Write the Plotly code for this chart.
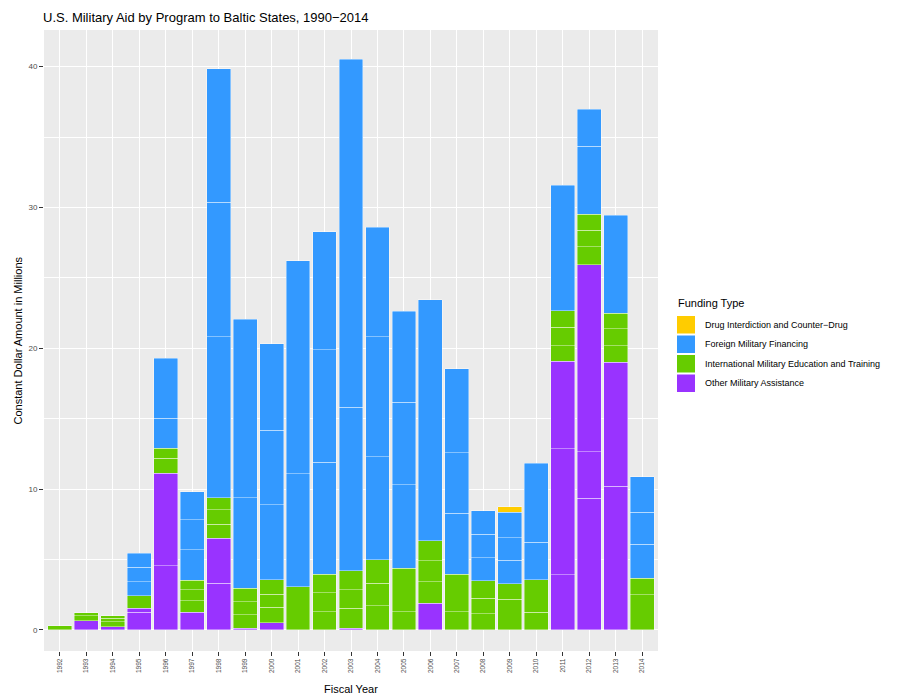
import plotly.graph_objects as go

years = [str(y) for y in range(1992, 2015)]

# Segment values (millions, constant dollars), bottom-to-top within each program
# Other Military Assistance
oma_1 = [0, 0.66, 0.24, 1.26, 4.57, 1.26, 3.31, 0.12, 0.52, 0, 0, 0.12, 0, 0, 1.89, 0, 0, 0, 0, 3.91, 9.35, 10.20, 0]
oma_2 = [0, 0, 0, 0.28, 6.56, 0, 3.20, 0, 0, 0, 0, 0, 0, 0, 0, 0, 0, 0, 0, 8.95, 3.31, 8.81, 0]
oma_3 = [0, 0, 0, 0, 0, 0, 0, 0, 0, 0, 0, 0, 0, 0, 0, 0, 0, 0, 0, 6.20, 13.26, 0, 0]
# International Military Education and Training
imet_1 = [0.28, 0.34, 0.35, 0.87, 1.06, 0.80, 0.99, 0.95, 1.07, 3.08, 1.30, 1.42, 1.73, 1.30, 1.54, 1.30, 1.16, 2.18, 1.26, 1.11, 1.30, 1.16, 2.49]
imet_2 = [0, 0.23, 0.24, 0, 0.71, 0.78, 1.02, 0.94, 0.94, 0, 1.35, 1.30, 1.58, 3.08, 1.47, 2.65, 1.09, 1.11, 2.29, 1.33, 1.17, 1.21, 1.18]
imet_3 = [0, 0, 0.19, 0, 0, 0.69, 0.88, 0.95, 1.02, 0, 1.30, 1.37, 1.66, 0, 1.44, 0, 1.25, 0, 0, 1.16, 1.13, 1.11, 0]
# Foreign Military Financing
fmf_1 = [0, 0, 0, 1.02, 2.13, 2.15, 11.43, 6.44, 5.33, 8.00, 7.96, 11.60, 7.34, 5.92, 17.10, 4.34, 1.64, 1.66, 2.68, 8.90, 4.81, 6.94, 2.42]
fmf_2 = [0, 0, 0, 1.02, 4.27, 2.13, 9.54, 12.67, 5.30, 15.15, 7.98, 24.72, 8.52, 5.87, 0, 4.30, 1.66, 1.61, 5.61, 0, 2.65, 0, 2.27]
fmf_3 = [0, 0, 0, 1.00, 0, 1.99, 9.47, 0, 6.13, 0, 8.40, 0, 7.77, 6.44, 0, 5.95, 1.65, 1.80, 0, 0, 0, 0, 2.53]
# Drug Interdiction and Counter-Drug
drug_1 = [0, 0, 0, 0, 0, 0, 0, 0, 0, 0, 0, 0, 0, 0, 0, 0, 0, 0.38, 0, 0, 0, 0, 0]

programs = ["Drug Interdiction and Counter\u2212Drug", "Foreign Military Financing",
            "International Military Education and Training", "Other Military Assistance"]
colors = {"Drug Interdiction and Counter\u2212Drug": "#FFCC00",
          "Foreign Military Financing": "#3399FF",
          "International Military Education and Training": "#66CC00",
          "Other Military Assistance": "#9933FF"}

stack = [
    ("Other Military Assistance", [oma_1, oma_2, oma_3]),
    ("International Military Education and Training", [imet_1, imet_2, imet_3]),
    ("Foreign Military Financing", [fmf_1, fmf_2, fmf_3]),
    ("Drug Interdiction and Counter\u2212Drug", [drug_1]),
]

fig = go.Figure()
for name, segs in stack:
    for seg in segs:
        fig.add_trace(go.Bar(
            x=years, y=[v if v > 0 else None for v in seg], name=name,
            width=0.9, marker=dict(color=colors[name],
                                   line=dict(color="rgba(255,255,255,0.5)", width=0.8)),
            showlegend=False, hovertemplate="%{x}: %{y}<extra>" + name + "</extra>"))

# page has an 8px body margin: lay out in page pixels minus offset
OFF = 8
W, H = 905 - OFF, 695 - OFF
L, R, T, B = 44 - OFF, 658 - OFF, 30 - OFF, 651 - OFF

def px(x):
    return (x - OFF - L) / (R - L)

def py(y):
    return (B - (y - OFF)) / (B - T)

shapes = []
annotations = []
# legend
annotations.append(dict(x=px(676), y=py(303), xref="paper", yref="paper", text="Funding Type",
                        showarrow=False, xanchor="left", yanchor="middle",
                        font=dict(size=11, color="black")))
for i, name in enumerate(programs):
    top = 316 + i * 19.5
    shapes.append(dict(type="rect", xref="paper", yref="paper",
                       x0=px(677), x1=px(695), y0=py(top), y1=py(top + 17.5),
                       fillcolor=colors[name], line=dict(width=0)))
    annotations.append(dict(x=px(703), y=py(top + 8.7), xref="paper", yref="paper", text=name,
                            showarrow=False, xanchor="left", yanchor="middle",
                            font=dict(size=9, color="black")))
# axis titles
annotations.append(dict(x=0.5, y=py(689), xref="paper", yref="paper", text="Fiscal Year",
                        showarrow=False, xanchor="center", yanchor="middle",
                        font=dict(size=11, color="black")))
annotations.append(dict(x=px(17), y=0.5, xref="paper", yref="paper",
                        text="Constant Dollar Amount in Millions", textangle=-90,
                        showarrow=False, xanchor="center", yanchor="middle",
                        font=dict(size=11, color="black")))

fig.update_layout(
    width=W, height=H, barmode="stack", bargap=0.1,
    margin=dict(l=L, r=W - R, t=T, b=H - B, pad=0),
    paper_bgcolor="white", plot_bgcolor="#EBEBEB",
    font=dict(family="Liberation Sans, Arial, sans-serif", color="black"),
    title=dict(text="U.S. Military Aid by Program to Baltic States, 1990\u22122014",
               x=(43 - OFF) / W, xref="container", xanchor="left",
               y=1 - (17 - OFF) / H, yref="container", yanchor="middle",
               font=dict(size=13, color="black")),
    shapes=shapes, annotations=annotations, showlegend=False,
)
fig.update_xaxes(type="category", range=[-0.6, 22.6], showgrid=True, gridcolor="white",
                 gridwidth=1, ticks="outside", ticklen=4, tickcolor="#333333",
                 tickangle=-90, tickfont=dict(size=6.5, color="#4D4D4D"),
                 showline=False, zeroline=False, fixedrange=True)
fig.update_yaxes(range=[-1.5, 42.6], tickvals=[0, 10, 20, 30, 40], showgrid=True,
                 gridcolor="white", gridwidth=1, ticks="outside", ticklen=4,
                 tickcolor="#333333", tickfont=dict(size=8, color="#4D4D4D"),
                 minor=dict(tickvals=[5, 15, 25, 35], showgrid=True, gridcolor="white",
                            gridwidth=0.5, ticks=""),
                 showline=False, zeroline=False)

fig.write_html("out.html")
